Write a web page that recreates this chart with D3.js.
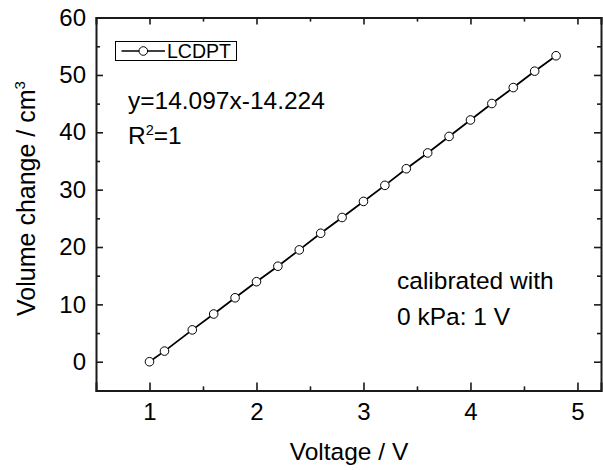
<!DOCTYPE html>
<html><head><meta charset="utf-8">
<script src="https://cdn.jsdelivr.net/npm/d3@7"></script>
<style>
html,body{margin:0;padding:0;background:#fff;}
svg{display:block;font-family:"Liberation Sans",Arial,sans-serif;}
</style></head>
<body><svg id="c" width="603" height="470"></svg>
<script>
const voltage = [1.0, 1.14, 1.4, 1.6, 1.8, 2.0, 2.2, 2.4, 2.6, 2.8, 3.0, 3.2, 3.4, 3.6, 3.8, 4.0, 4.2, 4.4, 4.6, 4.8];
const volume  = [0, 1.85, 5.55, 8.32, 11.15, 13.95, 16.65, 19.5, 22.4, 25.15, 27.95, 30.75, 33.65, 36.4, 39.28, 42.15, 45.02, 47.8, 50.66, 53.35];
const xTicks = [1, 2, 3, 4, 5];
const xMinor = [1.5, 2.5, 3.5, 4.5];
const yTicks = [0, 10, 20, 30, 40, 50, 60];
const yMinor = [5, 15, 25, 35, 45, 55];
const seriesName = "LCDPT";
const eqText = "y=14.097x-14.224";
const noteLines = ["calibrated with", "0 kPa: 1 V"];

const svg = d3.select("#c");
const L = 96, R = 601, T = 17.6, B = 390.4;
const x = d3.scaleLinear().domain([0.5, 5.22]).range([L, R]);
const y = d3.scaleLinear().domain([-5, 60]).range([B, T]);
const col = "#1a1a1a";
const FF = '"Liberation Sans",Arial,sans-serif';

function styleAxis(g){
  g.selectAll("path.domain").attr("stroke", col).attr("stroke-width", 2);
  g.selectAll(".tick line").attr("stroke", col).attr("stroke-width", 1.6);
}
function minor(axisFn, sc, vals, tr){
  const g = svg.append("g").attr("transform", tr)
    .call(axisFn(sc).tickValues(vals).tickSize(-4).tickFormat(""));
  g.select("path.domain").remove();
  g.selectAll(".tick line").attr("stroke", col).attr("stroke-width", 1.6);
}
minor(d3.axisBottom, x, xMinor, `translate(0,${B})`);
minor(d3.axisTop, x, xMinor, `translate(0,${T})`);
minor(d3.axisLeft, y, yMinor, `translate(${L},0)`);
minor(d3.axisRight, y, yMinor, `translate(${R},0)`);

const gx = svg.append("g").attr("transform", `translate(0,${B})`)
  .call(d3.axisBottom(x).tickValues(xTicks).tickSize(-8).tickPadding(13).tickFormat(d3.format("d")));
const gxt = svg.append("g").attr("transform", `translate(0,${T})`)
  .call(d3.axisTop(x).tickValues(xTicks).tickSize(-7).tickFormat(""));
const gy = svg.append("g").attr("transform", `translate(${L},0)`)
  .call(d3.axisLeft(y).tickValues(yTicks).tickSize(-7).tickPadding(10).tickFormat(d3.format("d")));
const gyr = svg.append("g").attr("transform", `translate(${R},0)`)
  .call(d3.axisRight(y).tickValues(yTicks).tickSize(-7).tickFormat(""));
[gx, gxt, gy, gyr].forEach(styleAxis);
[gx, gy].forEach(g => g.selectAll("text").attr("font-size", 24).attr("fill", "#000")
  .attr("font-family", FF));

// line and points
const pts = voltage.map((v, i) => [v, volume[i]]);
svg.append("path").datum(pts)
  .attr("d", d3.line().x(d => x(d[0])).y(d => y(d[1])))
  .attr("fill", "none").attr("stroke", "#000").attr("stroke-width", 1.8);
svg.append("g").selectAll("circle").data(pts).join("circle")
  .attr("cx", d => x(d[0])).attr("cy", d => y(d[1])).attr("r", 4.3)
  .attr("fill", "#fff").attr("stroke", "#000").attr("stroke-width", 1);

// legend
const lg = svg.append("g");
lg.append("rect").attr("x", 115.5).attr("y", 41.5).attr("width", 121).attr("height", 19)
  .attr("fill", "#fff").attr("stroke", "#000").attr("stroke-width", 1);
lg.append("line").attr("x1", 121.5).attr("x2", 165).attr("y1", 51).attr("y2", 51)
  .attr("stroke", "#000").attr("stroke-width", 1.5);
lg.append("circle").attr("cx", 143.3).attr("cy", 51).attr("r", 4.3)
  .attr("fill", "#fff").attr("stroke", "#000").attr("stroke-width", 1);
lg.append("text").attr("x", 167).attr("y", 57.8).attr("font-size", 19.5).text(seriesName);

// equation
svg.append("text").attr("x", 128).attr("y", 108.5).attr("font-size", 24.5).text(eqText);
const r2 = svg.append("text").attr("x", 128).attr("y", 144).attr("font-size", 24.5);
r2.append("tspan").text("R");
r2.append("tspan").attr("dy", -9.5).attr("font-size", 14.5).text("2");
r2.append("tspan").attr("dy", 9.5).text("=1");

// note
svg.append("text").attr("x", 397).attr("y", 289.3).attr("font-size", 24.5).text(noteLines[0]);
svg.append("text").attr("x", 397).attr("y", 325).attr("font-size", 24.5).text(noteLines[1]);

// axis titles
svg.append("text").attr("x", 349).attr("y", 460).attr("text-anchor", "middle")
  .attr("font-size", 24.5).text("Voltage / V");
const yt = svg.append("text").attr("transform", "translate(35,198.5) rotate(-90)")
  .attr("text-anchor", "middle").attr("font-size", 25);
yt.append("tspan").text("Volume change / cm");
yt.append("tspan").attr("dy", -10).attr("font-size", 15).text("3");
</script></body></html>
